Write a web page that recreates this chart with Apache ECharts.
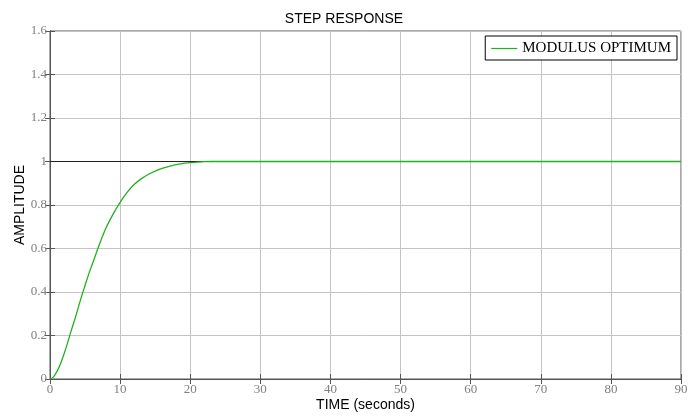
<!DOCTYPE html>
<html>
<head>
<meta charset="utf-8">
<script src="https://cdn.jsdelivr.net/npm/echarts@6/dist/echarts.min.js"></script>
<style>html,body{margin:0;padding:0;background:#fff}#c{width:688px;height:416px}</style>
</head>
<body>
<div id="c"></div>
<script>
const timeValues = [0, 0.5, 1, 1.5, 2, 2.5, 3, 3.5, 4, 4.5, 5, 5.5, 6, 6.5, 7, 8, 9, 10, 11, 12, 13, 14, 15, 16, 17, 18, 19, 20, 21, 22, 23, 24, 25, 30, 40, 50, 60, 70, 80, 90];
const amplitudeValues = [0, 0.01, 0.035, 0.07, 0.115, 0.165, 0.22, 0.27, 0.325, 0.38, 0.43, 0.48, 0.525, 0.57, 0.615, 0.695, 0.758, 0.812, 0.858, 0.894, 0.92, 0.94, 0.956, 0.968, 0.978, 0.986, 0.991, 0.995, 0.997, 0.999, 1.0, 1.0, 1.0, 1.0, 1.0, 1.0, 1.0, 1.0, 1.0, 1.0];
const xTicks = [0, 10, 20, 30, 40, 50, 60, 70, 80, 90];
const yTicks = [0, 0.2, 0.4, 0.6, 0.8, 1, 1.2, 1.4, 1.6];
const seriesName = 'MODULUS OPTIMUM';
const referenceLevel = 1;

const chart = echarts.init(document.getElementById('c'));
const serif = 'Liberation Serif';
const sans = 'Liberation Sans';
const tickLabel = {color: '#808080', fontFamily: serif, fontSize: 13};
chart.setOption({
  animation: false,
  title: {text: 'STEP RESPONSE', left: 'center', top: 7,
    textStyle: {fontFamily: sans, fontSize: 14, fontWeight: 'normal', color: '#000'}},
  grid: {left: 50, top: 31, right: 7, bottom: 37, show: true, borderColor: '#555', borderWidth: 1,
    backgroundColor: 'transparent', containLabel: false, outerBoundsMode: 'none'},
  legend: {right: 11, top: 36, orient: 'horizontal', zlevel: 2,
    data: [{name: seriesName, icon: 'rect'}],
    backgroundColor: '#fff', borderColor: '#000', borderWidth: 1, padding: [5, 6, 4, 6],
    itemWidth: 26, itemHeight: 1.2,
    textStyle: {fontFamily: serif, fontSize: 15, color: '#000'}},
  xAxis: [{
    type: 'value', min: 0, max: 90, interval: 10,
    name: 'TIME (seconds)', nameLocation: 'middle', nameGap: 19, nameMoveOverlap: false,
    nameTextStyle: {fontFamily: sans, fontSize: 14, color: '#000'},
    axisLine: {show: true, lineStyle: {color: '#555'}},
    axisTick: {show: true, inside: true, length: 5, lineStyle: {color: '#555'}},
    axisLabel: Object.assign({margin: 4}, tickLabel),
    splitLine: {show: true, lineStyle: {color: '#c4c4c4', width: 1}}
  }, {
    type: 'value', min: 0, max: 90, interval: 10, position: 'top',
    axisLine: {show: true, lineStyle: {color: '#555'}},
    axisTick: {show: true, inside: true, length: 5, lineStyle: {color: '#555'}},
    axisLabel: {show: false}, splitLine: {show: false}
  }],
  yAxis: [{
    type: 'value', min: 0, max: 1.6, interval: 0.2,
    name: 'AMPLITUDE', nameLocation: 'middle', nameGap: 23, nameMoveOverlap: false,
    nameTextStyle: {fontFamily: sans, fontSize: 14, color: '#000'},
    axisLine: {show: true, lineStyle: {color: '#555'}},
    axisTick: {show: true, inside: true, length: 5, lineStyle: {color: '#555'}},
    axisLabel: Object.assign({margin: 3, formatter: v => String(+v.toFixed(1))}, tickLabel),
    splitLine: {show: true, lineStyle: {color: '#c4c4c4', width: 1}}
  }, {
    type: 'value', min: 0, max: 1.6, interval: 0.2, position: 'right',
    axisLine: {show: true, lineStyle: {color: '#555'}},
    axisTick: {show: true, inside: true, length: 5, lineStyle: {color: '#555'}},
    axisLabel: {show: false}, splitLine: {show: false}
  }],
  series: [{
    name: 'reference', type: 'line', data: [], silent: true,
    markLine: {silent: true, symbol: 'none', label: {show: false},
      lineStyle: {color: '#222', width: 1, type: 'solid'},
      data: [{yAxis: referenceLevel}]}
  }, {
    name: seriesName, type: 'line', smooth: 0.3, symbol: 'none', zlevel: 1,
    data: timeValues.map((t, i) => [t, amplitudeValues[i]]),
    lineStyle: {color: '#1fb21f', width: 1.3}, itemStyle: {color: '#1fb21f'}
  }]
});
</script>
</body>
</html>
